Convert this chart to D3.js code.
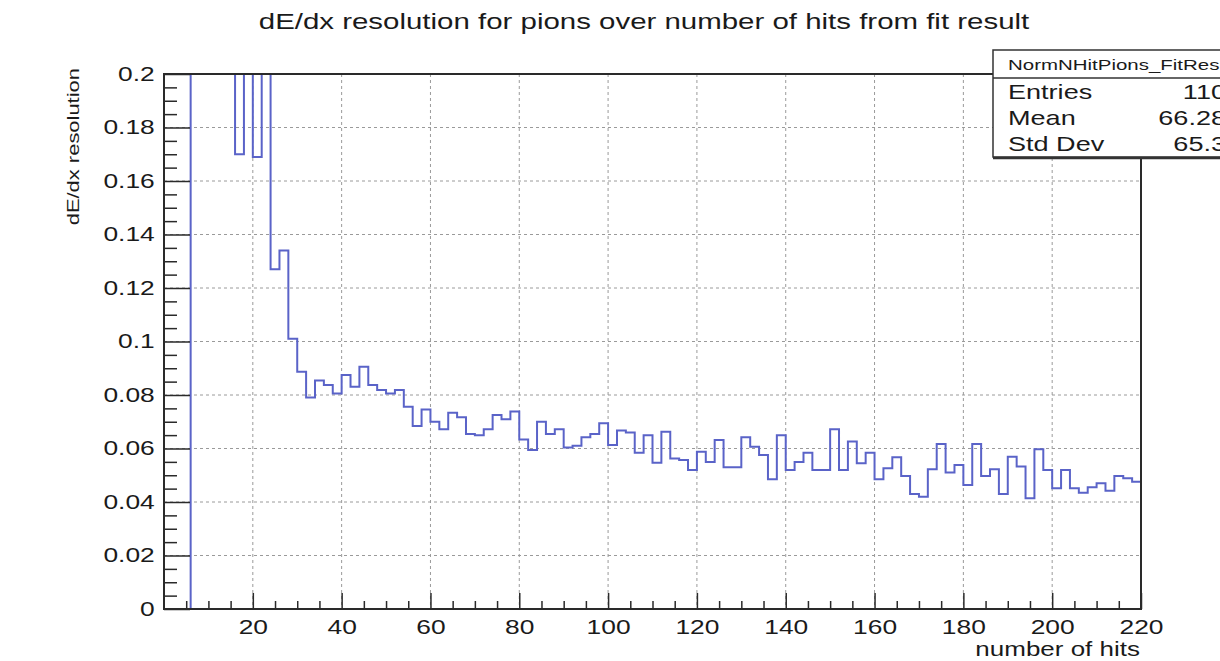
<!DOCTYPE html>
<html>
<head>
<meta charset="utf-8">
<script src="https://cdn.jsdelivr.net/npm/d3@7"></script>
<style>
  body { margin: 0; background: #fff; }
  svg { display: block; font-family: "Liberation Sans", Arial, Helvetica, sans-serif; }
</style>
</head>
<body>
<div id="plot"></div>
<script>
// histogram definition (like TH1F: 110 bins from 0 to 220)
const nBins = 110;
const xMin = 0, xMax = 220;

// dE/dx resolution per bin (first bins go off scale)
const resolution = [
  0, 0, 0, 2.0, 1.3, 0.8, 0.6, 0.45, 0.170, 0.24,
  0.169, 0.21, 0.127, 0.134, 0.101, 0.0887, 0.0791, 0.0854, 0.0837, 0.0806,
  0.0875, 0.0831, 0.0906, 0.0837, 0.0819, 0.0806, 0.0819, 0.0756, 0.0684, 0.0746,
  0.0700, 0.0672, 0.0734, 0.0717, 0.0654, 0.0650, 0.0672, 0.0725, 0.0709, 0.0738,
  0.0634, 0.0594, 0.0700, 0.0654, 0.0672, 0.0604, 0.0610, 0.0642, 0.0654, 0.0694,
  0.0613, 0.0667, 0.0660, 0.0584, 0.0650, 0.0547, 0.0663, 0.0563, 0.0557, 0.0520,
  0.0588, 0.0550, 0.0632, 0.0530, 0.0530, 0.0642, 0.0607, 0.0576, 0.0485, 0.0650,
  0.0520, 0.0550, 0.0584, 0.0520, 0.0520, 0.0672, 0.0520, 0.0626, 0.0545, 0.0584,
  0.0485, 0.0526, 0.0567, 0.0497, 0.0430, 0.0420, 0.0522, 0.0617, 0.0510, 0.0538,
  0.0464, 0.0617, 0.0497, 0.0522, 0.0430, 0.0569, 0.0533, 0.0414, 0.0597, 0.0520,
  0.0451, 0.0520, 0.0451, 0.0435, 0.0455, 0.0470, 0.0442, 0.0497, 0.0489, 0.0476
];

const xTicks = [20, 40, 60, 80, 100, 120, 140, 160, 180, 200, 220];
const yTicks = [0, 0.02, 0.04, 0.06, 0.08, 0.1, 0.12, 0.14, 0.16, 0.18, 0.2];

const statsName = "NormNHitPions_FitResult";
const statsLabels = ["Entries", "Mean", "Std Dev"];
const statsValues = ["110", "66.28", "65.3"];

const title = "dE/dx resolution for pions over number of hits from fit result";
const xTitle = "number of hits";
const yTitle = "dE/dx resolution";

// the picture is a ROOT canvas stretched sideways, so text is too
const SX = 1.32;
const lineColor = "#5a63c8";

const W = 1220, H = 661;
const margin = {top: 74, right: 79, bottom: 52, left: 164};
const width = W - margin.left - margin.right;
const height = H - margin.top - margin.bottom;

const svg = d3.select("#plot")
    .append("svg")
    .attr("width", W)
    .attr("height", H);

const plot = svg.append("g")
    .attr("transform", "translate(" + margin.left + "," + margin.top + ")");

const x = d3.scaleLinear().domain([xMin, xMax]).range([0, width]);
const y = d3.scaleLinear().domain([0, 0.2]).range([height, 0]).clamp(true);

// grid
plot.append("g")
    .selectAll("line")
    .data(xTicks.filter(d => d < xMax))
    .enter()
    .append("line")
    .attr("x1", d => x(d)).attr("x2", d => x(d))
    .attr("y1", 0).attr("y2", height)
    .attr("stroke", "#9a9a9a")
    .attr("stroke-dasharray", "3,3");
plot.append("g")
    .selectAll("line")
    .data(yTicks.filter(d => d > 0 && d < 0.2))
    .enter()
    .append("line")
    .attr("x1", 0).attr("x2", width)
    .attr("y1", d => y(d)).attr("y2", d => y(d))
    .attr("stroke", "#9a9a9a")
    .attr("stroke-dasharray", "3,3");

// histogram outline
const binW = (xMax - xMin) / nBins;
const pts = resolution.map((v, i) => [xMin + i * binW, v]);
pts.push([xMax, resolution[nBins - 1]]);

plot.append("path")
    .datum(pts)
    .attr("fill", "none")
    .attr("stroke", lineColor)
    .attr("stroke-width", 2)
    .attr("d", d3.line()
        .x(d => x(d[0]))
        .y(d => y(d[1]))
        .curve(d3.curveStepAfter));

// axes, ticks pointing inside like ROOT
const axisColor = "#2a2a2a";

const xMinor = d3.range(5, 220, 5).filter(d => d % 20 !== 0);
plot.append("g")
    .attr("transform", "translate(0," + height + ")")
    .call(d3.axisBottom(x).tickValues(xMinor).tickSize(-8).tickSizeOuter(0).tickFormat(""))
    .call(g => g.select(".domain").remove());
const xAxis = plot.append("g")
    .attr("transform", "translate(0," + height + ")")
    .call(d3.axisBottom(x).tickValues(xTicks).tickSize(-16).tickSizeOuter(0).tickPadding(11)
        .tickFormat(d3.format("d")));
xAxis.select(".domain").remove();

const yMinor = d3.range(0, 0.2, 0.005).filter((d, i) => i % 4 !== 0);
plot.append("g")
    .call(d3.axisLeft(y).tickValues(yMinor).tickSize(-13).tickSizeOuter(0).tickFormat(""))
    .call(g => g.select(".domain").remove());
const yAxis = plot.append("g")
    .call(d3.axisLeft(y).tickValues(yTicks).tickSize(-26).tickSizeOuter(0).tickPadding(7)
        .tickFormat(d => d === 0 ? "0" : d3.format("")(+d.toFixed(2))));
yAxis.select(".domain").remove();

plot.selectAll(".tick line").attr("stroke", axisColor).attr("stroke-width", 1.5);
plot.selectAll(".tick text")
    .attr("fill", "#1a1a1a")
    .style("font-size", "20px")
    .style("font-family", "Liberation Sans, Arial, sans-serif")
    .attr("transform", "scale(" + SX + ",1)");

// frame
plot.append("rect")
    .attr("width", width).attr("height", height)
    .attr("fill", "none")
    .attr("stroke", axisColor)
    .attr("stroke-width", 2);

// titles
function stretchedText(parent, px, py, str, size, anchor) {
  return parent.append("text")
      .attr("transform", "translate(" + px + "," + py + ") scale(" + SX + ",1)")
      .attr("text-anchor", anchor)
      .attr("fill", "#1a1a1a")
      .style("font-size", size + "px")
      .text(str);
}

stretchedText(svg, 644, 29, title, 22.3, "middle");
stretchedText(svg, 1140, 656, xTitle, 19.7, "end");

// rotated title: stretched along its length in the picture
svg.append("text")
    .attr("transform", "translate(79,68) scale(1,1.33) rotate(-90)")
    .attr("text-anchor", "end")
    .attr("fill", "#1a1a1a")
    .style("font-size", "16.5px")
    .text(yTitle);

// stats box
const box = svg.append("g");
box.append("rect")
    .attr("x", 993).attr("y", 50)
    .attr("width", 260).attr("height", 107)
    .attr("fill", "#fff")
    .attr("stroke", "#333")
    .attr("stroke-width", 1.5);
box.append("line")
    .attr("x1", 993).attr("x2", 1253)
    .attr("y1", 158).attr("y2", 158)
    .attr("stroke", "#333").attr("stroke-width", 2.5);
box.append("line")
    .attr("x1", 993).attr("x2", 1253)
    .attr("y1", 78).attr("y2", 78)
    .attr("stroke", "#333").attr("stroke-width", 1.5);
stretchedText(box, 1008, 70, statsName, 15.5, "start");
statsLabels.forEach((lab, i) => {
  stretchedText(box, 1008, 99 + i * 26, lab, 20.5, "start");
  stretchedText(box, 1226, 99 + i * 26, statsValues[i], 20.5, "end");
});
</script>
</body>
</html>
